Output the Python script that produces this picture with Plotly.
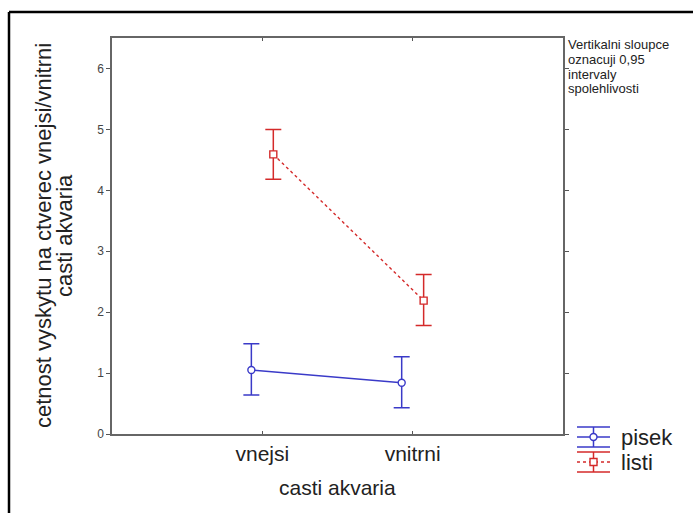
import plotly.graph_objects as go

# Groups along the x axis and the two measured series (mean with 95% CI bounds)
categories = ["vnejsi", "vnitrni"]
series_names = ["pisek", "listi"]
pisek_mean = [1.05, 0.84]
pisek_lower = [0.64, 0.43]
pisek_upper = [1.48, 1.27]
listi_mean = [4.59, 2.19]
listi_lower = [4.18, 1.78]
listi_upper = [5.00, 2.62]
y_ticks = [0, 1, 2, 3, 4, 5, 6]
note_lines = ["Vertikalni sloupce", "oznacuji 0,95", "intervaly", "spolehlivosti"]
y_title_lines = ["cetnost vyskytu na ctverec vnejsi/vnitrni", "casti akvaria"]
x_title = "casti akvaria"

W, H = 693, 513
L, R, T, B = 112, 130, 38, 79
PW, PH = W - L - R, H - T - B
FONT = "Liberation Sans, Arial, sans-serif"
BLUE = "#3a3ac8"
RED = "#d42a2a"


def px_x(x):
    return (x - L) / PW


def px_y(y):
    return (H - B - y) / PH


def series_trace(name, mean, lower, upper, shift, color, symbol, dash):
    xs = [i + shift for i in range(len(categories))]
    return go.Scatter(
        x=xs, y=mean, name=name, mode="lines+markers",
        line=dict(color=color, width=1.4, dash=dash),
        marker=dict(symbol=symbol, size=7, color="white",
                    line=dict(color=color, width=1.4)),
        error_y=dict(type="data", symmetric=False,
                     array=[u - m for u, m in zip(upper, mean)],
                     arrayminus=[m - l for m, l in zip(mean, lower)],
                     color=color, thickness=1.5, width=8),
        showlegend=False, cliponaxis=False,
    )


fig = go.Figure()
fig.add_trace(series_trace(series_names[0], pisek_mean, pisek_lower, pisek_upper,
                           -0.073, BLUE, "circle", "solid"))
fig.add_trace(series_trace(series_names[1], listi_mean, listi_lower, listi_upper,
                           0.073, RED, "square", "3px,3px"))

shapes = []
# outer frame (left and top edges)
shapes.append(dict(type="line", xref="paper", yref="paper",
                   x0=px_x(9), y0=px_y(12), x1=px_x(W + 5), y1=px_y(12),
                   line=dict(color="black", width=2.5)))
shapes.append(dict(type="line", xref="paper", yref="paper",
                   x0=px_x(9), y0=px_y(12), x1=px_x(9), y1=px_y(H + 5),
                   line=dict(color="black", width=2.5)))

# hand-drawn legend keys: error bar with marker
annotations = []
legend_items = [
    (series_names[0], BLUE, "circle", "solid", 437),
    (series_names[1], RED, "square", "3px,3px", 462),
]
for name, color, sym, dash, cy in legend_items:
    x0, x1, xm = 577, 610, 593.5
    for dy in (-10, 10):
        shapes.append(dict(type="line", xref="paper", yref="paper",
                           x0=px_x(x0), x1=px_x(x1), y0=px_y(cy + dy), y1=px_y(cy + dy),
                           line=dict(color=color, width=1.5)))
    shapes.append(dict(type="line", xref="paper", yref="paper",
                       x0=px_x(xm), x1=px_x(xm), y0=px_y(cy - 10), y1=px_y(cy + 10),
                       line=dict(color=color, width=1.5)))
    shapes.append(dict(type="line", xref="paper", yref="paper",
                       x0=px_x(x0), x1=px_x(x1), y0=px_y(cy), y1=px_y(cy),
                       line=dict(color=color, width=1.4, dash=dash)))
    shapes.append(dict(type="circle" if sym == "circle" else "rect",
                       xref="paper", yref="paper",
                       x0=px_x(xm - 3.5), x1=px_x(xm + 3.5),
                       y0=px_y(cy - 3.5), y1=px_y(cy + 3.5),
                       fillcolor="white", line=dict(color=color, width=1.4)))
    annotations.append(dict(text=name, xref="paper", yref="paper",
                            x=px_x(619), y=px_y(cy), xanchor="left", yanchor="middle",
                            showarrow=False, font=dict(family=FONT, size=22, color="#222")))

# note about the error bars
for i, line in enumerate(note_lines):
    annotations.append(dict(text=line, xref="paper", yref="paper",
                            x=px_x(566), y=px_y(45 + i * 14.5),
                            xanchor="left", yanchor="middle", showarrow=False,
                            font=dict(family=FONT, size=13, color="#222")))

# axis titles
for i, line in enumerate(y_title_lines):
    annotations.append(dict(text=line, xref="paper", yref="paper",
                            x=px_x(43 + i * 21), y=0.5,
                            xanchor="center", yanchor="middle", textangle=-90,
                            showarrow=False, font=dict(family=FONT, size=22, color="#222")))
annotations.append(dict(text=x_title, xref="paper", yref="paper",
                        x=0.5, y=px_y(488), xanchor="center", yanchor="middle",
                        showarrow=False, font=dict(family=FONT, size=21, color="#222")))

fig.update_layout(
    width=W, height=H, autosize=False,
    margin=dict(l=L, r=R, t=T, b=B, pad=0),
    paper_bgcolor="white", plot_bgcolor="white",
    font=dict(family=FONT, color="#222"),
    shapes=shapes, annotations=annotations,
    xaxis=dict(range=[-1, 2], tickvals=list(range(len(categories))),
               ticktext=categories, ticks="inside", ticklen=3, tickcolor="#555",
               showline=True, linecolor="#666", linewidth=1.5, mirror="ticks",
               showgrid=False, zeroline=False,
               tickfont=dict(family=FONT, size=21, color="#222")),
    yaxis=dict(range=[0, 6.5], tickvals=y_ticks, ticks="outside", ticklen=4,
               tickcolor="#555", showline=True, linecolor="#666", linewidth=1.5,
               mirror="ticks", showgrid=False, zeroline=False,
               tickfont=dict(family=FONT, size=12, color="#444")),
)

fig.write_html("out.html")
